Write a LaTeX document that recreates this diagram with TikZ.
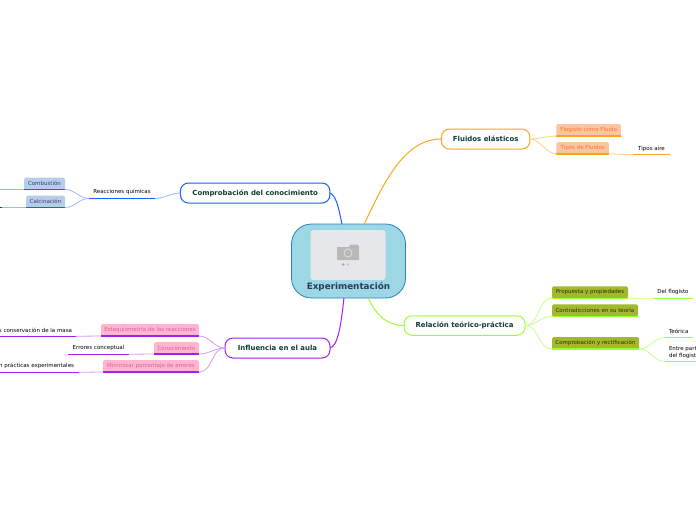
\documentclass[tikz,border=0pt]{standalone}
\usepackage{fontspec}
\setmainfont{DejaVu Sans}
\definecolor{ink}{HTML}{0B3D33}
\definecolor{cOr}{HTML}{FFA514}\definecolor{lOr}{HTML}{FFD08A}
\definecolor{cBl}{HTML}{1A5CFF}\definecolor{lBl}{HTML}{9DB8FF}
\definecolor{cPu}{HTML}{A31FF0}\definecolor{lPu}{HTML}{D79BFA}
\definecolor{cLi}{HTML}{99FF33}\definecolor{lLi}{HTML}{C6FF90}
\definecolor{fOr}{HTML}{F8C6A0}\definecolor{tOr}{HTML}{FF7035}
\definecolor{fBl}{HTML}{B9CDE8}\definecolor{tBl}{HTML}{33475F}
\definecolor{fPu}{HTML}{FFB5D2}\definecolor{tPu}{HTML}{D9608F}
\definecolor{fLi}{HTML}{A3B82C}\definecolor{tLi}{HTML}{26320A}
\tikzset{
  x=1pt,y=-1pt,
  every node/.style={inner sep=0pt,outer sep=0pt,font=\fontsize{5.5}{6.4}\selectfont,align=center},
  branch/.style={draw=#1,fill=white,line width=1pt,rounded corners=8pt,text=ink,font=\fontsize{6.95}{8}\selectfont\bfseries},
  sub/.style={rounded corners=1.5pt,minimum height=12pt},
  plain/.style={minimum height=12.5pt,text=black},
  ul/.style={line width=1.3pt},
  link/.style={line width=.8pt},
  trunk/.style={line width=1pt}
}
\begin{document}
\begin{tikzpicture}
\useasboundingbox (0,0) rectangle (696,520);
\clip (0,0) rectangle (696,520);
% centre
\node[draw={rgb,255:red,43;green,127;blue,192},fill={rgb,255:red,157;green,214;blue,228},line width=.8pt,rounded corners=20pt,minimum width=114pt,minimum height=74pt] (main) at (348.5,261) {};
\node[fill={rgb,255:red,230;green,231;blue,233},rounded corners=3pt,minimum width=75pt,minimum height=50pt] (img) at (348,255) {};
\fill[black!28] (337,247) -- (349,247) -- (350,244.5) -- (357,244.5) -- (359,246) -- (359,260) -- (337,260) -- cycle;
\draw[white!85!black,line width=1pt] (348,253) circle (4pt);
\fill[black!35] (343.2,264.5) circle (1.4pt);
\fill[black!22] (348,264.5) circle (1.4pt);
\fill[black!8] (353,264.5) circle (1.4pt);
\node[text={rgb,255:red,40;green,62;blue,85},font=\fontsize{8.8}{10}\selectfont\bfseries] (maintxt) at (348.5,287) {Experimentación};
% branches
\node[branch=cOr,minimum width=88.5pt,minimum height=20pt] (flu) at (485.7,139) {Fluidos elásticos};
\node[branch=cBl,minimum width=149.5pt,minimum height=20pt] (com) at (255.2,193) {Comprobación del conocimiento};
\node[branch=cPu,minimum width=105pt,minimum height=20pt] (inf) at (277.5,348) {Influencia en el aula};
\node[branch=cLi,minimum width=121pt,minimum height=19.5pt] (rel) at (464.5,325.5) {Relación teórico-práctica};
\draw[cOr,trunk] (main.67) .. controls (385,180) and (405,139) .. (flu.west);
\draw[cBl,trunk] (main.100) .. controls (338,205) and (336,196) .. (com.east);
\draw[cPu,trunk] (main.263) .. controls (341,325) and (338,346) .. (inf.east);
\draw[cLi,trunk] (main.298) .. controls (378,318) and (388,325) .. (rel.west);
% orange
\node[sub,fill=fOr,text=tOr,minimum width=64.5pt] (fc) at (588.7,130) {Flogisto como Fluido};
\node[sub,fill=fOr,text=tOr,minimum width=52.5pt] (tf) at (582.7,148) {Tipos de Fluidos};
\node[plain,minimum width=37pt] (ta) at (651.5,148.5) {Tipos aire};
\draw[cOr,ul] (fc.south west) -- (fc.south east);
\draw[cOr,ul] (tf.south west) -- (tf.south east);
\draw[cOr,ul] (ta.south west) -- (ta.south east);
\draw[lOr,link] (flu.east) to[out=0,in=180,looseness=.8] (fc.south west);
\draw[lOr,link] (flu.east) to[out=0,in=180,looseness=.8] (tf.south west);
\draw[lOr,link] (tf.south east) to[out=0,in=180] (ta.south west);
% blue
\node[plain,minimum width=66pt] (rq) at (122,192.2) {Reacciones químicas};
\node[sub,fill=fBl,text=tBl,minimum width=41pt] (cb) at (44.5,183.5) {Combustión};
\node[sub,fill=fBl,text=tBl,minimum width=39pt] (cc) at (45.5,201.5) {Calcinación};
\coordinate (cbend) at (0,189.5);
\coordinate (ccend) at (0,207.5);
\draw[cBl,ul] (rq.south west) -- (rq.south east);
\draw[cBl,ul] (cb.south west) -- (cb.south east);
\draw[cBl,ul] (cc.south west) -- (cc.south east);
\draw[lBl,link] (com.west) to[out=180,in=0] (rq.south east);
\draw[lBl,link] (rq.south west) to[out=180,in=0] (cb.south east);
\draw[lBl,link] (rq.south west) to[out=180,in=0] (cc.south east);
\draw[lBl,link] (cb.south west) -- (cbend);
\draw[lBl,link] (cc.south west) -- (ccend);
\draw[cBl!60!black,ul] (ccend) -- ++(1.5,0);
% purple
\node[sub,fill=fPu,text=tPu,minimum width=98pt] (es) at (150,330) {Estequiometría de las reacciones};
\node[sub,fill=fPu,text=tPu,minimum width=45pt] (cn) at (176.5,348) {Conocimiento};
\node[sub,fill=fPu,text=tPu,minimum width=96pt] (mi) at (151,366) {Minimizar porcentaje de errores};
\node[plain,minimum width=76pt] (l1) at (38,330) {\makebox[68pt][r]{s conservación de la masa}};
\node[plain,minimum width=61pt] (l2) at (98.5,348) {Errores conceptual};
\node[plain,minimum width=79pt] (l3) at (39.5,366) {\makebox[69pt][r]{n prácticas experimentales}};
\foreach \n in {es,cn,mi,l1,l2,l3}{\draw[cPu,ul] (\n.south west) -- (\n.south east);}
\draw[lPu,link] (inf.west) to[out=180,in=0] (es.south east);
\draw[lPu,link] (inf.west) to[out=180,in=0] (cn.south east);
\draw[lPu,link] (inf.west) to[out=180,in=0] (mi.south east);
\draw[lPu,link] (es.south west) -- (l1.south east);
\draw[lPu,link] (cn.south west) -- (l2.south east);
\draw[lPu,link] (mi.south west) -- (l3.south east);
% lime
\node[sub,fill=fLi,text=tLi,minimum width=76pt] (pp) at (590,292.3) {Propuesta y propiedades};
\node[sub,fill=fLi,text=tLi,minimum width=86pt] (ct) at (595,310.3) {Contradicciones en su teoría};
\node[sub,fill=fLi,text=tLi,minimum width=87pt] (cr) at (595.5,343) {Comprobación y rectificación};
\node[plain,minimum width=40pt] (df) at (673,292.3) {Del flogisto};
\node[plain,minimum width=28pt] (te) at (679,331.3) {\makebox[20pt][l]{Teórica}};
\node[minimum width=31pt,minimum height=18pt,text=black] (ep) at (680.5,352.5) {\makebox[23pt][l]{Entre part}\\\makebox[23pt][l]{del flogist}};
\foreach \n in {pp,ct,cr,df,te,ep}{\draw[cLi,ul] (\n.south west) -- (\n.south east);}
\draw[lLi,link] (rel.east) to[out=0,in=180] (pp.south west);
\draw[lLi,link] (rel.east) to[out=0,in=180] (ct.south west);
\draw[lLi,link] (rel.east) to[out=0,in=180] (cr.south west);
\draw[lLi!60!white,line width=1.2pt] (pp.south east) -- (df.south west);
\draw[lLi,link] (cr.south east) to[out=0,in=180] (te.south west);
\draw[lLi,link] (cr.south east) to[out=0,in=180] (ep.south west);
\end{tikzpicture}
\end{document}
